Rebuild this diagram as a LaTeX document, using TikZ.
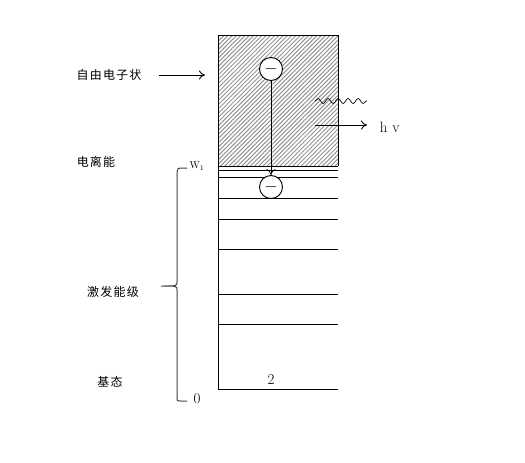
\documentclass[tikz,border=0pt]{standalone}
\usepackage{fontspec}
\newfontfamily\cjk[LetterSpace=10]{Noto Sans CJK SC}
\usetikzlibrary{patterns,patterns.meta,arrows,arrows.meta,decorations.pathmorphing,calc}
\tikzset{
  diagram/.style={
    every path/.style={line width=0.9pt},
    level line/.style={line width=1pt},
    hatch/.style={pattern={Lines[angle=45, distance=3pt, line width=1pt]}, pattern color=gray!85},
    electron/.style={circle, draw, fill=white, minimum size=23pt, inner sep=0pt, font={\fontsize{16}{18}\selectfont}},
    cjk label/.style={font={\cjk\fontsize{12}{14}\selectfont}},
    num label/.style={font={\fontsize{15}{17}\selectfont}},
    wave/.style={decorate, decoration={snake, amplitude=2.5pt, segment length=10pt}},
  }
}

\begin{document}
\begin{tikzpicture}
[
    diagram,
    x=1pt, y=-1pt,
    >={To[length=6pt, width=9pt]},
]
    \useasboundingbox (0,0) rectangle (525,463);
    % free electron region
    \fill[hatch] (218,35) rectangle (338,166);
    \draw (218,389) -- (218,35) -- (338,35) -- (338,166);
    % energy levels
    \foreach \y in {166,170,177,198,219,249,294,324,389}
        \draw[level line] (218,\y) -- (338,\y);

    \node[electron] (e1) at (271,69) {$-$};
    \node[electron] (e2) at (271,187) {$-$};
    \draw[->, line width=0.7pt] (e1) -- (e2);

    % photon
    \coordinate (wave start) at (315,101);
    \coordinate (wave end) at (367,101);
    \draw[wave, line width=0.7pt] (wave start) -- (wave end);
    \coordinate (hv start) at (315,125);
    \coordinate (hv end) at (367,125);
    \draw[->] (hv start) -- (hv end);
    \node[num label, anchor=west] (hv) at (376,127) {h\,\,v};

    % labels
    \node[cjk label] (free) at (109,75) {自由电子状};
    \coordinate (box in) at (205,75);
    \draw[->, shorten <=14pt] (free.east) -- (box in);
    \node[cjk label] (ion) at (96,162) {电离能};
    \node[cjk label] (excited) at (113,292) {激发能级};
    \node[cjk label] (ground) at (110,382) {基态};
    \node[num label] (two) at (271,380) {2};
    \node[font={\fontsize{10}{12}\selectfont}] (W1) at (197,166) {$\mathrm{W}_1$};
    \node[num label] (zero) at (197,399) {0};

    % brace
    \draw[line width=1pt, black!75] (187,168) -- (181,168) .. controls (178,168) .. (177,172)
        -- (177,282) .. controls (177,286) .. (161,286)
        .. controls (177,286) .. (177,290)
        -- (177,397) .. controls (177,401) .. (181,401) -- (187,401);
\end{tikzpicture}
\end{document}
